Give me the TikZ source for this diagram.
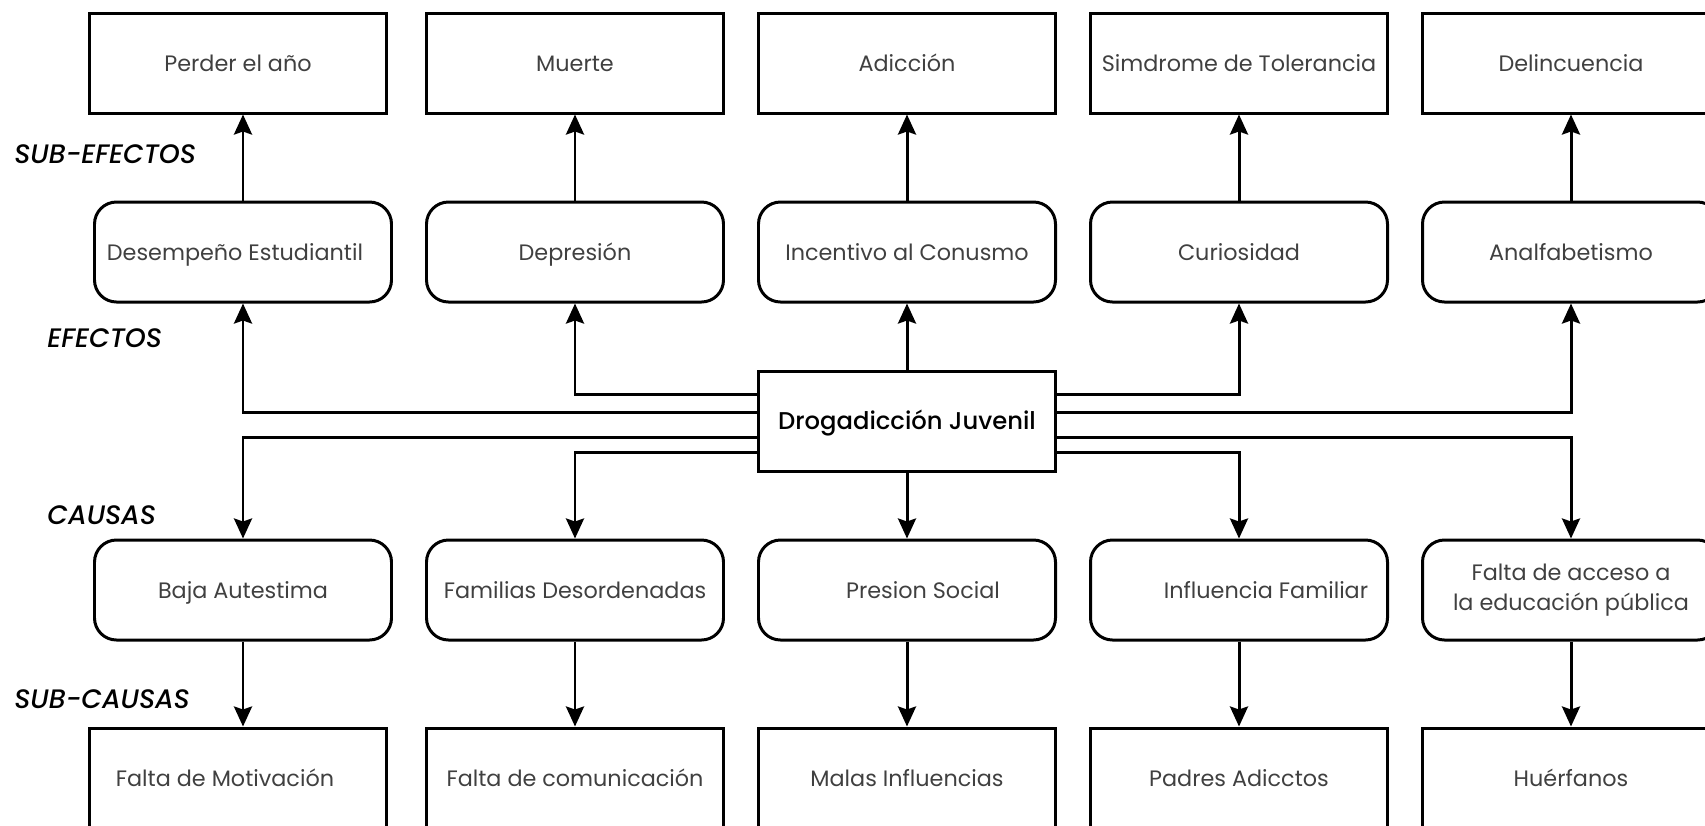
\documentclass[tikz,border=0pt]{standalone}
\usepackage{fontspec}
\setmainfont{Poppins}
\newfontfamily\medio{Poppins}[UprightFont={* Medium}, ItalicFont={* Medium Italic}]
\usetikzlibrary{arrows.meta}

\begin{document}
\begin{tikzpicture}[
  line width=0.85pt,
  every node/.style={font=\fontsize{6.35}{8.5}\selectfont, text=black!75},
  caja/.style={draw=black, minimum width=2.97cm, minimum height=1cm, inner sep=1pt,
    align=center, text height=0.7em, text depth=0.2em},
  redonda/.style={caja, rounded corners=0.22cm},
  etiqueta/.style={anchor=west, inner sep=0pt, text=black,
    font=\fontsize{7.6}{9}\selectfont\medio\itshape},
  flecha/.style={-{Stealth[length=0.2cm,width=0.18cm,inset=0.03cm]}}]
  \useasboundingbox (0,0) rectangle (17.05,-8.25);
  % niveles
  \node[etiqueta] (lse) at (0.13,-1.54) {SUB-EFECTOS};
  \node[etiqueta] (lef) at (0.46,-3.38) {EFECTOS};
  \node[etiqueta] (lca) at (0.46,-5.15) {CAUSAS};
  \node[etiqueta] (lsc) at (0.13,-6.99) {SUB-CAUSAS};
  % sub-efectos
  \node[caja] (se1) at (2.38,-0.63) {Perder el año};
  \node[caja] (se2) at (5.75,-0.63) {Muerte};
  \node[caja] (se3) at (9.07,-0.63) {Adicción};
  \node[caja] (se4) at (12.39,-0.63) {Simdrome de Tolerancia};
  \node[caja] (se5) at (15.71,-0.63) {Delincuencia};
  % efectos
  \node[redonda] (ef1) at (2.43,-2.52) {Desempeño Estudiantil\hspace*{0.16cm}};
  \node[redonda] (ef2) at (5.75,-2.52) {Depresión};
  \node[redonda] (ef3) at (9.07,-2.52) {Incentivo al Conusmo};
  \node[redonda] (ef4) at (12.39,-2.52) {Curiosidad};
  \node[redonda] (ef5) at (15.71,-2.52) {Analfabetismo};
  % problema central
  \node[caja, text=black, font=\fontsize{6.9}{8}\selectfont\medio] (dj) at (9.07,-4.21) {Drogadicción Juvenil};
  % causas
  \node[redonda] (ca1) at (2.43,-5.90) {Baja Autestima};
  \node[redonda] (ca2) at (5.75,-5.90) {Familias Desordenadas};
  \node[redonda] (ca3) at (9.07,-5.90) {\hspace*{0.32cm}Presion Social};
  \node[redonda] (ca4) at (12.39,-5.90) {\hspace*{0.54cm}Influencia Familiar};
  \node[redonda, text height=, text depth=] (ca5) at (15.71,-5.90) {Falta de acceso a\\la educación pública};
  % sub-causas
  \node[caja] (sc1) at (2.38,-7.78) {Falta de Motivación\hspace*{0.26cm}};
  \node[caja] (sc2) at (5.75,-7.78) {Falta de comunicación};
  \node[caja] (sc3) at (9.07,-7.78) {Malas Influencias};
  \node[caja] (sc4) at (12.39,-7.78) {Padres Adicctos};
  \node[caja] (sc5) at (15.71,-7.78) {Huérfanos};

  \draw[flecha] (ef1.north) -- (ef1.north |- se1.south);
  \draw[flecha] (ef2) -- (se2);
  \draw[flecha] (ef3) -- (se3);
  \draw[flecha] (ef4) -- (se4);
  \draw[flecha] (ef5) -- (se5);

  \draw[flecha] (dj) -- (ef3);
  \draw[flecha] (dj) -- (ca3);
  \draw[flecha] ([yshift=0.27cm]dj.west) -| (ef2.south);
  \draw[flecha] ([yshift=0.09cm]dj.west) -| (ef1.south);
  \draw[flecha] ([yshift=-0.16cm]dj.west) -| (ca1.north);
  \draw[flecha] ([yshift=-0.31cm]dj.west) -| (ca2.north);
  \draw[flecha] ([yshift=0.27cm]dj.east) -| (ef4.south);
  \draw[flecha] ([yshift=0.09cm]dj.east) -| (ef5.south);
  \draw[flecha] ([yshift=-0.16cm]dj.east) -| (ca5.north);
  \draw[flecha] ([yshift=-0.31cm]dj.east) -| (ca4.north);

  \draw[flecha] (ca1.south) -- (ca1.south |- sc1.north);
  \draw[flecha] (ca2) -- (sc2);
  \draw[flecha] (ca3) -- (sc3);
  \draw[flecha] (ca4) -- (sc4);
  \draw[flecha] (ca5) -- (sc5);
\end{tikzpicture}
\end{document}
